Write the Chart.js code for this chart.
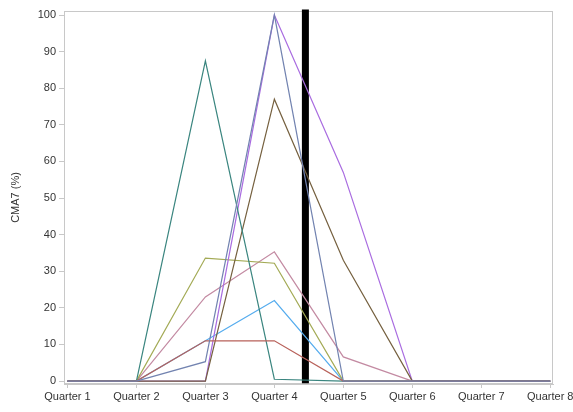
<!DOCTYPE html>
<html>
<head>
<meta charset="utf-8">
<script src="https://cdn.jsdelivr.net/npm/chart.js@4"></script>
<style>
html,body{margin:0;padding:0;background:#fff;}
#wrap{width:573px;height:412px;position:relative;}
</style>
</head>
<body>
<div id="wrap"><canvas id="c" width="573" height="412"></canvas></div>
<script>
const quarters = ['Quarter 1','Quarter 2','Quarter 3','Quarter 4','Quarter 5','Quarter 6','Quarter 7','Quarter 8'];
const yTicks = [0,10,20,30,40,50,60,70,80,90,100];
const seriesSlate  = [0,0,5.3,100,0,0,0,0];
const seriesRed    = [0,0,11,11,0,0,0,0];
const seriesTeal   = [0,0,87.5,0.5,0,0,0,0];
const seriesBrown  = [0,0,0,77,33,0,0,0];
const seriesPurple = [0,0,0,100,57,0,0,0];
const seriesOlive  = [0,0,33.6,32.2,0,0,0,0];
const seriesBlue   = [0,0,11,22,0,0,0,0];
const seriesPink   = [0,0,23,35.3,6.6,0,0,0];
const markerX = 4.45;
const markerY = [-0.6, 101.5];

function pts(arr){ return arr.map((v,i)=>({x:i+1,y:v})); }
function ds(arr,color){
  return {data:pts(arr),borderColor:color,backgroundColor:color,borderWidth:1.2,pointRadius:0,tension:0,fill:false};
}

const frame = {
  id:'frame',
  beforeDatasetsDraw(chart){
    const {ctx,chartArea:a} = chart;
    ctx.save();
    ctx.strokeStyle = '#c8c8c8';
    ctx.lineWidth = 1;
    ctx.strokeRect(Math.round(a.left)+0.5, Math.round(a.top)+0.5, Math.round(a.right-a.left)-1, Math.round(a.bottom-a.top)-1);
    ctx.restore();
  }
};

new Chart(document.getElementById('c'), {
  type:'line',
  data:{
    datasets:[
      ds(seriesSlate,'#7283b0'),
      ds(seriesRed,'#b8615a'),
      ds(seriesTeal,'#3a857f'),
      ds(seriesBrown,'#75603f'),
      ds(seriesPurple,'#a96ce0'),
      ds(seriesOlive,'#a3aa55'),
      ds(seriesBlue,'#55acee'),
      ds(seriesPink,'#c38aa2'),
      {data:[{x:markerX,y:markerY[0]},{x:markerX,y:markerY[1]}],borderColor:'#000',borderWidth:7,pointRadius:0,borderCapStyle:'butt',clip:false}
    ]
  },
  options:{
    responsive:false,
    animation:false,
    layout:{padding:{left:0,right:20,top:11,bottom:0}},
    plugins:{legend:{display:false},tooltip:{enabled:false}},
    scales:{
      x:{
        type:'linear',
        min:0.95,max:8.04,
        afterBuildTicks(s){ s.ticks = quarters.map((q,i)=>({value:i+1})); },
        afterFit(s){ s.height = 28; s.paddingRight = 0; s.paddingLeft = 0; },
        ticks:{callback:(v)=>quarters[Math.round(v)-1],font:{family:'Liberation Sans',size:11},color:'#333',padding:2,maxRotation:0,autoSkip:false},
        grid:{drawOnChartArea:false,drawTicks:true,tickLength:4,color:'#c8c8c8'},
        border:{display:true,color:'#c8c8c8'}
      },
      y:{
        type:'linear',
        min:-0.8,max:101.1,
        afterBuildTicks(s){ s.ticks = yTicks.map(v=>({value:v})); },
        afterFit(s){ s.width = 64; },
        ticks:{font:{family:'Liberation Sans',size:11},color:'#333',padding:3},
        grid:{drawOnChartArea:false,drawTicks:true,tickLength:5,color:'#c8c8c8'},
        border:{display:true,color:'#c8c8c8'},
        title:{display:true,text:'CMA7 (%)',font:{family:'Liberation Sans',size:11},color:'#333',padding:{top:9,bottom:0}}
      }
    }
  },
  plugins:[frame]
});
</script>
</body>
</html>
